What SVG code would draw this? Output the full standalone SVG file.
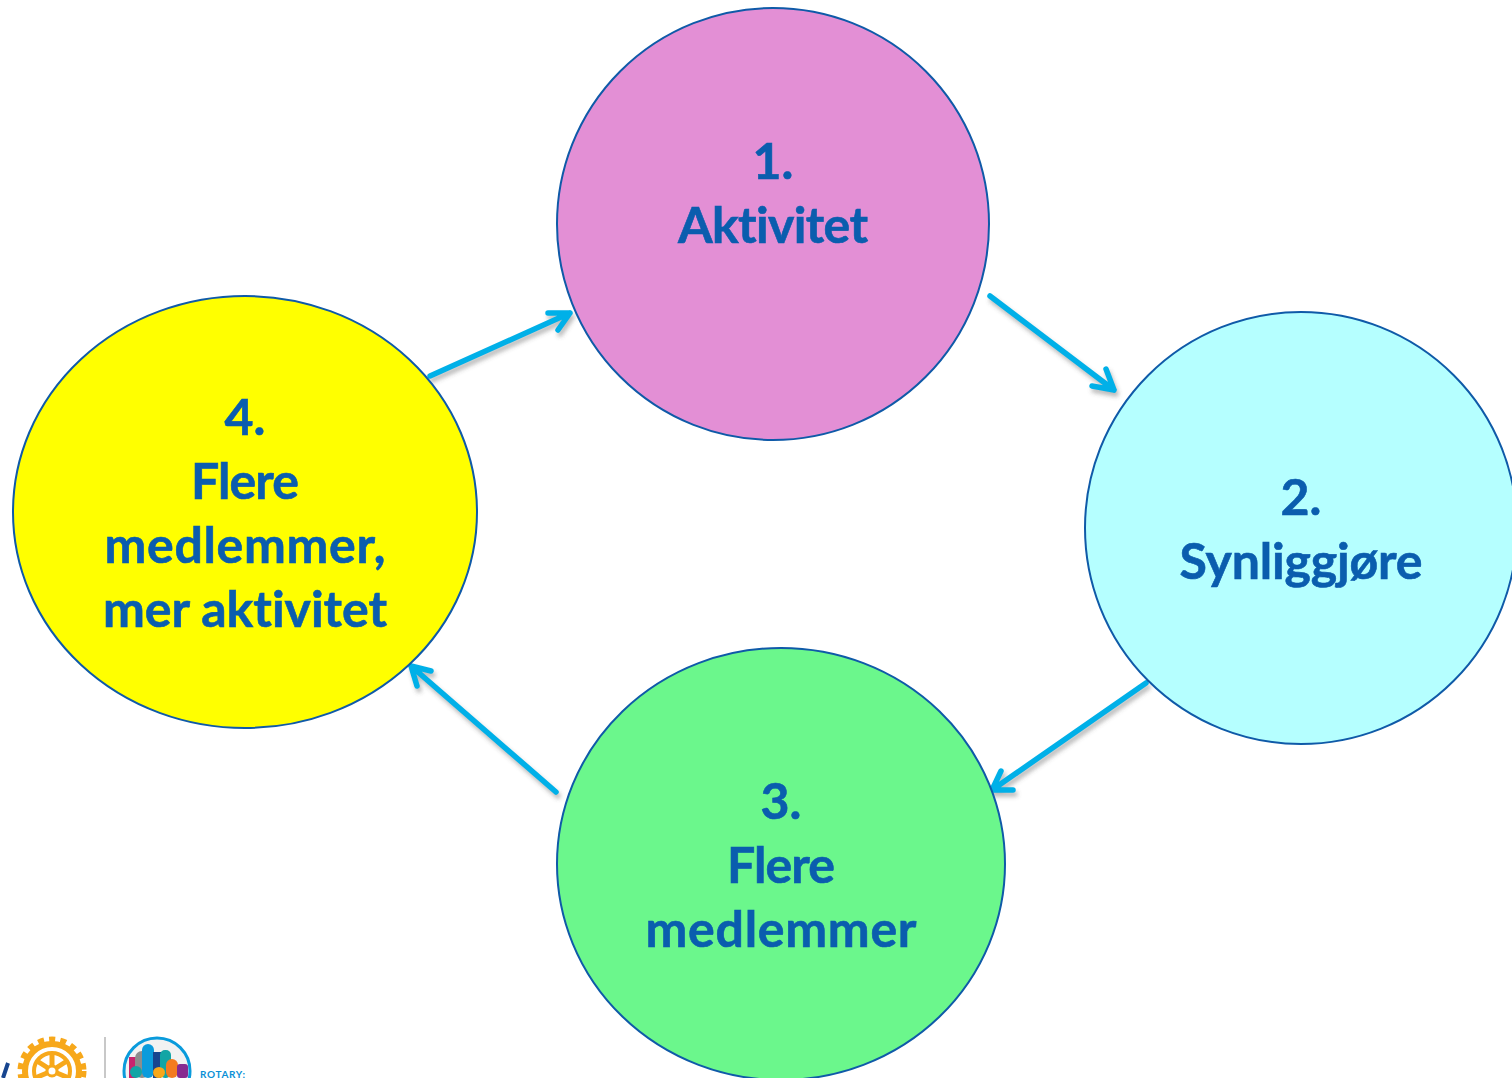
<svg xmlns="http://www.w3.org/2000/svg" width="1512" height="1078" viewBox="0 0 1512 1078">
<defs>
<filter id="soft" x="-20%" y="-20%" width="140%" height="140%"><feGaussianBlur stdDeviation="2"/></filter>
</defs>
<style>
.n{stroke:#0f5aa8;stroke-width:2}
.t{font-family:Lato,"Liberation Sans",sans-serif;font-weight:700;font-size:50px;fill:#0a5dae;stroke:#0a5dae;stroke-width:.6;text-anchor:middle;font-variant-ligatures:none}
.c{fill:none;stroke:#00b0e8;stroke-width:5.5;stroke-linecap:round;stroke-linejoin:round}
.s{fill:none;stroke:#555;stroke-opacity:.4;stroke-width:5.5;stroke-linecap:round;stroke-linejoin:round}
</style>
<rect width="1512" height="1078" fill="#fff"/>
<g id="connectors">
<g transform="translate(2,4)" class="s" filter="url(#soft)"><path d="M430 376L570 313M548 313L570 313L558 330"/><path d="M990 296L1114 390M1092 386L1114 390L1106 369"/><path d="M1146 683L992 790M1013 790L992 790L1001 771"/><path d="M556 792L411 666M431 671L411 666L417 686"/></g>
<path class="c" d="M430 376L570 313M548 313L570 313L558 330"/>
<path class="c" d="M990 296L1114 390M1092 386L1114 390L1106 369"/>
<path class="c" d="M1146 683L992 790M1013 790L992 790L1001 771"/>
<path class="c" d="M556 792L411 666M431 671L411 666L417 686"/>
</g>
<g id="node1"><circle class="n" cx="773" cy="224" r="216" fill="#e38fd5"/><text class="t" x="773" y="179">1.</text><text class="t" x="773" y="243" textLength="190">Aktivitet</text></g>
<g id="node2"><circle class="n" cx="1301" cy="528" r="216" fill="#b5ffff"/><text class="t" x="1301" y="515">2.</text><text class="t" x="1301" y="579" textLength="243">Synliggjøre</text></g>
<g id="node3"><ellipse class="n" cx="781" cy="864" rx="224" ry="216" fill="#6bf78c"/><text class="t" x="781" y="819">3.</text><text class="t" x="781" y="883" textLength="108">Flere</text><text class="t" x="781" y="947" textLength="271">medlemmer</text></g>
<g id="node4"><ellipse class="n" cx="245" cy="512" rx="232" ry="216" fill="#ffff00"/><text class="t" x="245" y="435">4.</text><text class="t" x="245" y="499" textLength="108">Flere</text><text class="t" x="245" y="563" textLength="281">medlemmer,</text><text class="t" x="245" y="627" textLength="284">mer aktivitet</text></g>
<g id="logo">
<path d="M8 1063L3 1078" stroke="#17458f" stroke-width="4" fill="none"/>
<circle cx="52" cy="1071" r="31" fill="none" stroke="#f7a81b" stroke-width="7" stroke-dasharray="6 5"/>
<circle cx="52" cy="1071" r="27" fill="none" stroke="#f7a81b" stroke-width="6"/>
<circle cx="52" cy="1071" r="18" fill="none" stroke="#f7a81b" stroke-width="4"/>
<circle cx="52" cy="1071" r="5" fill="none" stroke="#f7a81b" stroke-width="3"/>
<path d="M52 1053V1066M37 1061L48 1068M67 1061L56 1068M35 1078L47 1073M69 1078L57 1073" stroke="#f7a81b" stroke-width="5" fill="none"/>
<path d="M105 1037V1078" stroke="#c8c8c8" stroke-width="2"/>
<circle cx="157" cy="1071" r="33" fill="#f2f2f2" stroke="#0a9bdc" stroke-width="3"/>
<rect x="129" y="1057" width="7" height="21" fill="#c8246e"/>
<rect x="135" y="1051" width="14" height="27" rx="7" fill="#8d8d8d"/>
<rect x="142" y="1044" width="12" height="34" rx="6" fill="#0a9bdc"/>
<rect x="153" y="1052" width="8" height="26" fill="#17458f"/>
<rect x="160" y="1050" width="11" height="28" rx="5" fill="#12a5a5"/>
<rect x="166" y="1059" width="12" height="19" rx="6" fill="#f47b20"/>
<rect x="177" y="1064" width="11" height="14" rx="3" fill="#872b90"/>
<rect x="130" y="1066" width="12" height="12" rx="6" fill="#12a5a5"/>
<rect x="153" y="1067" width="12" height="11" rx="6" fill="#f7a81b"/>
<text x="200" y="1078" font-family="Lato,'Liberation Sans',sans-serif" font-weight="700" font-size="10" fill="#0a8fd6" textLength="45">ROTARY:</text>
</g>
</svg>
